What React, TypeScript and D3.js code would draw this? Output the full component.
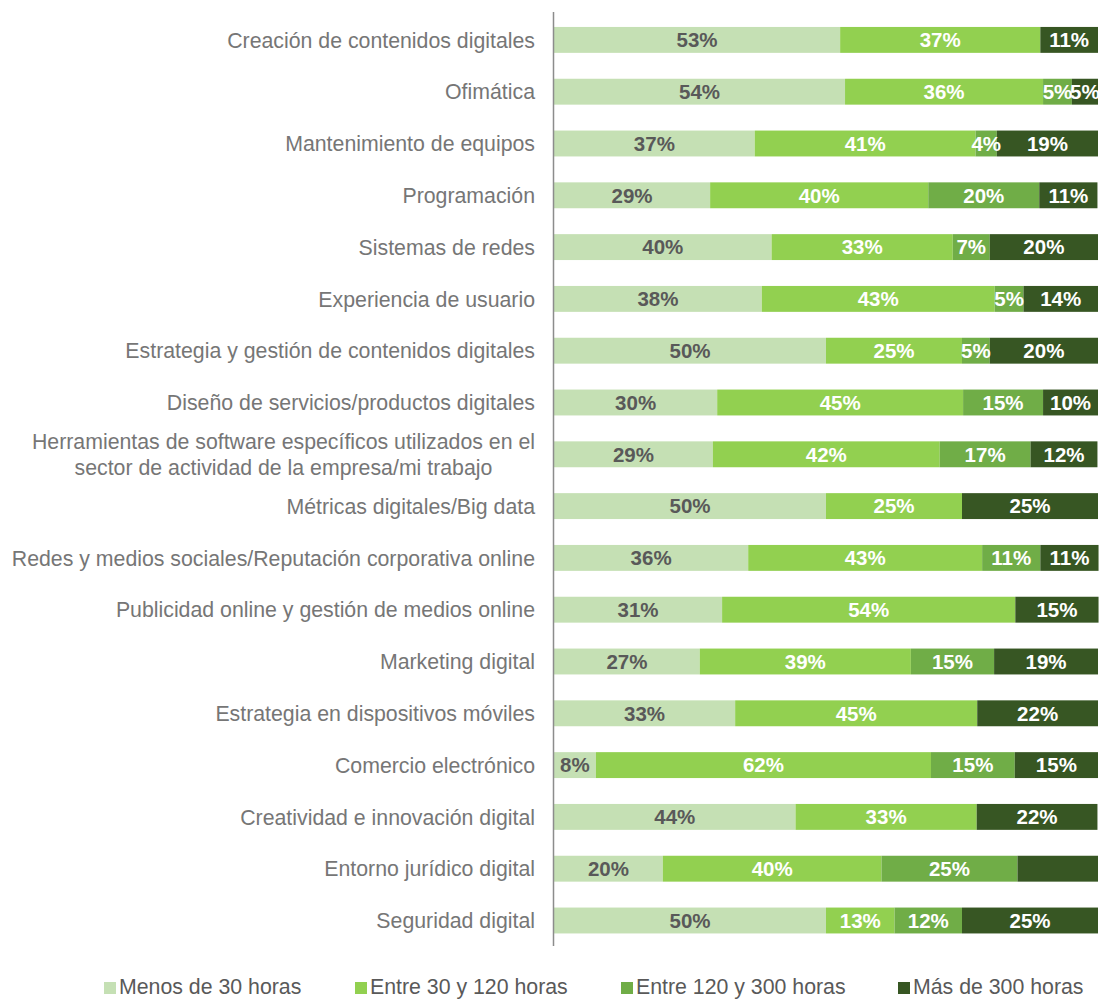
import React, { useEffect, useRef } from "react";
import * as d3 from "d3";

const categories = [
  "Creación de contenidos digitales",
  "Ofimática",
  "Mantenimiento de equipos",
  "Programación",
  "Sistemas de redes",
  "Experiencia de usuario",
  "Estrategia y gestión de contenidos digitales",
  "Diseño de servicios/productos digitales",
  "Herramientas de software específicos utilizados en el|sector de actividad de la empresa/mi trabajo",
  "Métricas digitales/Big data",
  "Redes y medios sociales/Reputación corporativa online",
  "Publicidad online y gestión de medios online",
  "Marketing digital",
  "Estrategia en dispositivos móviles",
  "Comercio electrónico",
  "Creatividad e innovación digital",
  "Entorno jurídico digital",
  "Seguridad digital",
];

const menos30 = [52.6, 53.5, 36.9, 28.7, 40.0, 38.2, 50.0, 30.0, 29.2, 50.0, 35.7, 30.9, 26.8, 33.3, 7.7, 44.4, 20.0, 50.0];
const entre30y120 = [36.8, 36.4, 40.6, 40.1, 33.3, 42.8, 25.0, 45.2, 41.7, 25.0, 43.0, 53.9, 38.8, 44.5, 61.6, 33.3, 40.2, 12.6];
const entre120y300 = [0, 5.3, 3.9, 20.4, 6.8, 5.3, 5.1, 14.7, 16.7, 0, 10.7, 0, 15.3, 0, 15.4, 0, 25.0, 12.4];
const mas300 = [10.6, 4.8, 18.6, 10.7, 19.9, 13.7, 19.9, 10.1, 12.3, 25.0, 10.7, 15.3, 19.1, 22.2, 15.3, 22.2, 14.8, 25.0];

const seriesNames = ["Menos de 30 horas", "Entre 30 y 120 horas", "Entre 120 y 300 horas", "Más de 300 horas"];
const seriesValues = [menos30, entre30y120, entre120y300, mas300];
const colors = ["#C5E0B4", "#92D050", "#70AD47", "#375623"];
const labelColors = ["#595959", "#ffffff", "#ffffff", "#ffffff"];
// labels not shown in the original (row index, series index)
const hiddenLabels = [[16, 3]];

const legendX = [104, 355, 621, 898];

export default function App() {
  const ref = useRef<SVGSVGElement>(null);

  useEffect(() => {
    const svg = d3.select(ref.current);
    svg.selectAll("*").remove();
    const font = "Arial, 'Liberation Sans', sans-serif";

    const x = d3.scaleLinear().domain([0, 100]).range([554, 1098]);
    const y = d3
      .scaleBand<string>()
      .domain(categories)
      .range([14, 946.4])
      .paddingInner(0.5)
      .paddingOuter(0.25);

    const rows = categories.map((c, i) => {
      const vals = seriesValues.map((s) => s[i]);
      let acc = 0;
      return vals.map((v, k) => {
        const seg = { cat: c, row: i, k, v, x0: acc, x1: acc + v };
        acc += v;
        return seg;
      });
    });
    const segs = rows.flat().filter((s) => s.v > 0);

    const g = svg.append("g");
    g.selectAll("rect.bar")
      .data(segs)
      .join("rect")
      .attr("class", "bar")
      .attr("x", (d) => x(d.x0))
      .attr("width", (d) => x(d.x1) - x(d.x0))
      .attr("y", (d) => y(d.cat)!)
      .attr("height", y.bandwidth())
      .attr("fill", (d) => colors[d.k]);

    g.selectAll("text.val")
      .data(segs.filter((s) => !hiddenLabels.some(([r, k]) => r === s.row && k === s.k)))
      .join("text")
      .attr("class", "val")
      .attr("x", (d) => (x(d.x0) + x(d.x1)) / 2)
      .attr("y", (d) => y(d.cat)! + y.bandwidth() / 2)
      .attr("dy", "0.36em")
      .attr("text-anchor", "middle")
      .attr("font-family", font)
      .attr("font-weight", "bold")
      .attr("font-size", 20.5)
      .attr("fill", (d) => labelColors[d.k])
      .text((d) => `${Math.round(d.v)}%`);

    // axis line
    svg
      .append("line")
      .attr("x1", 553.5)
      .attr("x2", 553.5)
      .attr("y1", 12)
      .attr("y2", 946)
      .attr("stroke", "#8c8c8c")
      .attr("stroke-width", 1.5);

    // category labels
    const catSize = 21.3;
    categories.forEach((c) => {
      const lines = c.split("|");
      const cy = y(c)! + y.bandwidth() / 2;
      if (lines.length === 1) {
        svg
          .append("text")
          .attr("x", 535)
          .attr("y", cy)
          .attr("dy", "0.36em")
          .attr("text-anchor", "end")
          .attr("font-family", font)
          .attr("font-size", catSize)
          .attr("fill", "#767676")
          .text(c);
      } else {
        const t1 = svg
          .append("text")
          .attr("x", 535)
          .attr("y", cy - 13)
          .attr("dy", "0.36em")
          .attr("text-anchor", "end")
          .attr("font-family", font)
          .attr("font-size", catSize)
          .attr("fill", "#767676")
          .text(lines[0]);
        const w = (t1.node() as SVGTextElement).getComputedTextLength();
        svg
          .append("text")
          .attr("x", 535 - w / 2)
          .attr("y", cy + 13)
          .attr("dy", "0.36em")
          .attr("text-anchor", "middle")
          .attr("font-family", font)
          .attr("font-size", catSize)
          .attr("fill", "#767676")
          .text(lines[1]);
      }
    });

    // legend
    const lg = svg.append("g");
    seriesNames.forEach((n, i) => {
      lg.append("rect")
        .attr("x", legendX[i])
        .attr("y", 982)
        .attr("width", 12)
        .attr("height", 12)
        .attr("fill", colors[i]);
      lg.append("text")
        .attr("x", legendX[i] + 15)
        .attr("y", 994)
        .attr("font-family", font)
        .attr("font-size", 21.3)
        .attr("fill", "#595959")
        .text(n);
    });
  }, []);

  return (
    <svg
      ref={ref}
      width={1099}
      height={1000}
      style={{ position: "absolute", left: 0, top: 0, background: "#fff" }}
    />
  );
}
